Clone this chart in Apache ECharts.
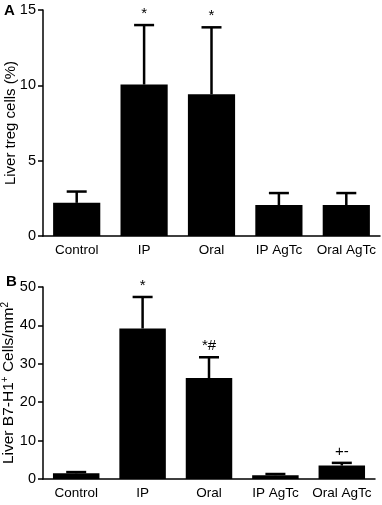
<!DOCTYPE html>
<html>
<head>
<meta charset="utf-8">
<script src="https://cdn.jsdelivr.net/npm/echarts@6/dist/echarts.min.js"></script>
<style>
    html, body { margin: 0; padding: 0; background: #fff; }
    #chart1 { width: 382px; height: 505px; }
</style>
</head>
<body>
<div id="chart1"></div>
<script>
var categories = ['Control', 'IP', 'Oral', 'IP AgTc', 'Oral AgTc']
// panel A: liver treg cells (%)
var tregMean = [2.2, 10.05, 9.4, 2.05, 2.05]
var tregErr = [0.75, 3.95, 4.45, 0.8, 0.8]
var tregMarks = ['', '*', '*', '', '']
var tregTicks = [0, 15, 5]
// panel B: liver B7-H1+ cells/mm2
var b7Mean = [1.5, 39.2, 26.3, 1.0, 3.5]
var b7Err = [0.3, 8.2, 5.4, 0.3, 0.7]
var b7Marks = ['', '*', '*#', '', '+-']
var b7Ticks = [0, 50, 10]

var font = 'Liberation Sans, Arial, sans-serif'

function errorBars (marks) {
    return function (params, api) {
        var i = params.dataIndex
        var m = api.value(1)
        var e = api.value(2)
        var base = api.coord([api.value(0), m])
        var top = api.coord([api.value(0), m + e])
        var half = 10
        var style = { stroke: '#000', lineWidth: 2.5 }
        return {
            type: 'group',
            children: [
                { type: 'line', shape: { x1: base[0], y1: base[1], x2: top[0], y2: top[1] }, style: style },
                { type: 'line', shape: { x1: top[0] - half, y1: top[1], x2: top[0] + half, y2: top[1] }, style: style },
                {
                    type: 'text',
                    style: {
                        text: marks[i], x: top[0], y: top[1] - 4,
                        align: 'center', verticalAlign: 'bottom',
                        font: '15px ' + font, fill: '#000'
                    }
                }
            ]
        }
    }
}

function xAx (gridIndex) {
    return {
        type: 'category',
        gridIndex: gridIndex,
        data: categories,
        axisLine: { lineStyle: { color: '#000', width: 1.5 } },
        axisTick: { alignWithLabel: true, length: 5, lineStyle: { color: '#000', width: 1.5 } },
        axisLabel: { color: '#000', fontSize: 13.5, fontFamily: font, margin: 7, interval: 0 }
    }
}

function yAx (gridIndex, ticks, name, nameSize) {
    return {
        type: 'value',
        gridIndex: gridIndex,
        min: ticks[0],
        max: ticks[1],
        interval: ticks[2],
        name: name,
        nameLocation: 'middle',
        nameGap: 25,
        nameMoveOverlap: false,
        nameTextStyle: {
            color: '#000', fontSize: nameSize, fontFamily: font,
            rich: { sup: { fontSize: 10, fontFamily: font, color: '#000', padding: [0, 0, 8, 0] } }
        },
        splitLine: { show: false },
        axisLine: { show: true, lineStyle: { color: '#000', width: 1.5 } },
        axisTick: { show: true, length: 5, lineStyle: { color: '#000', width: 1.5 } },
        axisLabel: { color: '#000', fontSize: 14.5, fontFamily: font, margin: 7 }
    }
}

function _initChart () {
    var myChart = echarts.init(document.getElementById('chart1'))
    var panelStyle = { fontSize: 15, fontWeight: 'bold', fontFamily: font, color: '#000' }
    var option = {
        animation: false,
        backgroundColor: '#fff',
        title: [
            { text: 'A', left: 4, top: 3, padding: 0, textStyle: panelStyle },
            { text: 'B', left: 6, top: 274, padding: 0, textStyle: panelStyle }
        ],
        grid: [
            { left: 43, top: 10, width: 337, height: 226, outerBoundsMode: 'none' },
            { left: 43, top: 287, width: 332, height: 192, outerBoundsMode: 'none' }
        ],
        xAxis: [xAx(0), xAx(1)],
        yAxis: [
            yAx(0, tregTicks, 'Liver treg cells (%)', 15),
            yAx(1, b7Ticks, 'Liver B7-H1{sup|+} Cells/mm{sup|2}', 15.5)
        ],
        series: [
            {
                type: 'bar', xAxisIndex: 0, yAxisIndex: 0, barWidth: '70%',
                itemStyle: { color: '#000' }, data: tregMean
            },
            {
                type: 'custom', xAxisIndex: 0, yAxisIndex: 0, z: 3,
                renderItem: errorBars(tregMarks),
                data: categories.map(function (c, i) { return [i, tregMean[i], tregErr[i]] })
            },
            {
                type: 'bar', xAxisIndex: 1, yAxisIndex: 1, barWidth: '70%',
                itemStyle: { color: '#000' }, data: b7Mean
            },
            {
                type: 'custom', xAxisIndex: 1, yAxisIndex: 1, z: 3,
                renderItem: errorBars(b7Marks),
                data: categories.map(function (c, i) { return [i, b7Mean[i], b7Err[i]] })
            }
        ]
    }
    myChart.setOption(option)
}

_initChart()
</script>
</body>
</html>
